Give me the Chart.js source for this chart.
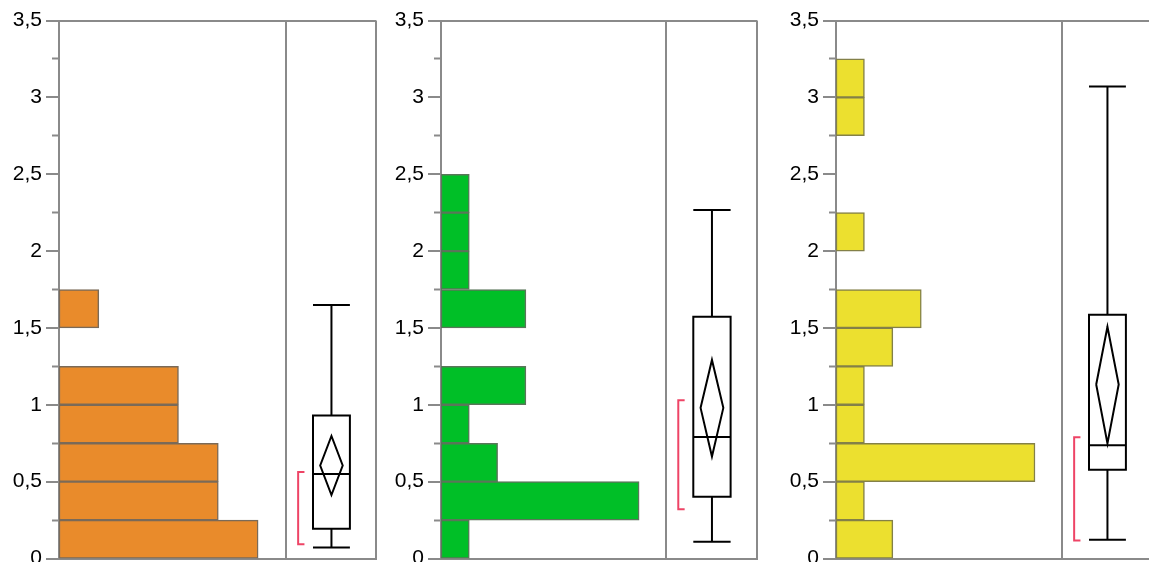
<!DOCTYPE html>
<html>
<head>
<meta charset="utf-8">
<title>Distributions</title>
<script src="https://cdn.jsdelivr.net/npm/chart.js@4.4.1/dist/chart.umd.min.js"></script>
<style>
  html, body { margin: 0; padding: 0; background: #ffffff; width: 1149px; height: 562px; overflow: hidden; position: relative; }
  canvas { position: absolute; top: 0; }
</style>
</head>
<body>
<canvas id="panelA" width="379" height="562" style="left:-1px"></canvas>
<canvas id="panelB" width="378" height="562" style="left:381px"></canvas>
<canvas id="panelC" width="378" height="562" style="left:776px"></canvas>
<script>
// Histogram bins: width 0.25, centres from 0.125 to 3.375
const binCenters = [0.125, 0.375, 0.625, 0.875, 1.125, 1.375, 1.625, 1.875, 2.125, 2.375, 2.625, 2.875, 3.125, 3.375];

// Counts per bin
const countsA = [5, 4, 4, 3, 3, 0, 1, 0, 0, 0, 0, 0, 0, 0];
const countsB = [1, 7, 2, 1, 3, 0, 3, 1, 1, 1, 0, 0, 0, 0];
const countsC = [2, 1, 7, 1, 1, 2, 3, 0, 1, 0, 0, 1, 1, 0];

// Box plot: lower whisker, Q1, median, Q3, upper whisker
const quantA = [0.072, 0.194, 0.549, 0.930, 1.649];
const quantB = [0.109, 0.402, 0.791, 1.573, 2.268];
const quantC = [0.122, 0.578, 0.736, 1.586, 3.070];

// Mean diamond: lower 95% limit, mean, upper 95% limit
const meanA = [0.413, 0.605, 0.797];
const meanB = [0.663, 0.980, 1.292];
const meanC = [0.748, 1.132, 1.508];

// Shortest half bracket: low, high
const shortA = [0.093, 0.562];
const shortB = [0.321, 1.030];
const shortC = [0.117, 0.789];

// Value axis ticks
const yMajorTicks = [0, 0.5, 1, 1.5, 2, 2.5, 3, 3.5];
const yMinorTicks = [0.25, 0.75, 1.25, 1.75, 2.25, 2.75, 3.25];

const FRAME = '#8a8a8a';
const FONT = "'Liberation Sans', Arial, Helvetica, sans-serif";

// horizontal placement of box plot parts inside the box-plot strip (0..1)
const BOX_L = 0.30, BOX_R = 0.71, BOX_C = 0.505, DIAMOND_HALF = 0.125;
const BRACKET_X = 0.135, BRACKET_TIP = 0.205;

function lineSet(points, color, width, cap) {
  return {
    type: 'line',
    indexAxis: 'x',
    xAxisID: 'xb',
    yAxisID: 'y',
    data: points,
    borderColor: color,
    borderWidth: width,
    borderCapStyle: cap || 'butt',
    borderJoinStyle: 'miter',
    pointRadius: 0,
    pointHoverRadius: 0,
    fill: false,
    tension: 0,
    spanGaps: false
  };
}

function makePanel(id, counts, quant, mean, shortest, look) {
  const [lo, q1, med, q3, hi] = quant;
  const [ciLo, mu, ciHi] = mean;
  const [shLo, shHi] = shortest;

  const datasets = [
    {
      type: 'bar',
      indexAxis: 'y',
      xAxisID: 'xh',
      yAxisID: 'y',
      data: binCenters.map((c, i) => ({ x: counts[i], y: c })),
      backgroundColor: look.fill,
      borderColor: look.edge,
      borderWidth: 1.5,
      borderSkipped: false,
      grouped: false,
      barPercentage: 1,
      categoryPercentage: 1
    },
    // quartile box (path repeats its first edge so every corner is joined)
    lineSet([{x: BOX_L, y: q1}, {x: BOX_R, y: q1}, {x: BOX_R, y: q3}, {x: BOX_L, y: q3}, {x: BOX_L, y: q1}, {x: BOX_R, y: q1}], '#000', 2),
    // median
    lineSet([{x: BOX_L, y: med}, {x: BOX_R, y: med}], '#000', 2),
    // whiskers and caps
    lineSet([{x: BOX_C, y: q3}, {x: BOX_C, y: hi}], '#000', 2),
    lineSet([{x: BOX_L, y: hi}, {x: BOX_R, y: hi}], '#000', 2),
    lineSet([{x: BOX_C, y: q1}, {x: BOX_C, y: lo}], '#000', 2),
    lineSet([{x: BOX_L, y: lo}, {x: BOX_R, y: lo}], '#000', 2),
    // mean diamond
    lineSet([{x: BOX_C - DIAMOND_HALF, y: mu}, {x: BOX_C, y: ciHi}, {x: BOX_C + DIAMOND_HALF, y: mu}, {x: BOX_C, y: ciLo}, {x: BOX_C - DIAMOND_HALF, y: mu}, {x: BOX_C, y: ciHi}], '#000', 2),
    // shortest half bracket
    lineSet([{x: BRACKET_TIP, y: shHi}, {x: BRACKET_X, y: shHi}, {x: BRACKET_X, y: shLo}, {x: BRACKET_TIP, y: shLo}], '#ee4466', 2)
  ];

  const noPad = s => { s.paddingTop = 0; s.paddingBottom = 0; s.paddingLeft = 0; s.paddingRight = 0; };

  new Chart(document.getElementById(id), {
    type: 'scatter',
    data: { datasets },
    options: {
      responsive: false,
      animation: false,
      events: [],
      devicePixelRatio: 1,
      layout: { padding: { left: 0, top: 20.5, right: 2, bottom: 3.5 } },
      plugins: { legend: { display: false }, tooltip: { enabled: false } },
      scales: {
        y: {
          type: 'linear', axis: 'y', position: 'left', min: 0, max: 3.5,
          offset: false,
          afterBuildTicks: s => { s.ticks = yMajorTicks.map(v => ({ value: v })); },
          afterFit: s => { s.width = 60; noPad(s); },
          ticks: {
            color: '#000',
            padding: 4,
            font: { family: FONT, size: 21 },
            callback: v => String(v).replace('.', ',')
          },
          grid: {
            offset: false,
            drawOnChartArea: true,
            color: c => (c.tick && c.tick.value === 3.5) ? FRAME : 'rgba(0,0,0,0)',
            lineWidth: 2,
            tickLength: 13,
            tickColor: FRAME,
            tickWidth: 2
          },
          border: { display: true, color: FRAME, width: 2 }
        },
        ym: {
          type: 'linear', axis: 'y', position: { xh: 0 }, min: 0, max: 3.5,
          offset: false,
          afterBuildTicks: s => { s.ticks = yMinorTicks.map(v => ({ value: v })); },
          afterFit: noPad,
          ticks: { display: false },
          grid: { drawOnChartArea: false, tickLength: 7, tickColor: FRAME, tickWidth: 2 },
          border: { display: false }
        },
        xh: {
          type: 'linear', axis: 'x', position: 'bottom', stack: 'frame', stackWeight: look.histWidth,
          min: 0, max: look.histMax, offset: false,
          afterBuildTicks: s => { s.ticks = [{ value: s.max }]; },
          afterFit: noPad,
          ticks: { display: false },
          grid: { offset: false, drawTicks: false, color: FRAME, lineWidth: 2 },
          border: { display: true, color: FRAME, width: 2 }
        },
        xb: {
          type: 'linear', axis: 'x', position: 'bottom', stack: 'frame', stackWeight: look.boxWidth,
          min: 0, max: 1, offset: false,
          afterBuildTicks: s => { s.ticks = [{ value: s.max }]; },
          afterFit: noPad,
          ticks: { display: false },
          grid: { offset: false, drawTicks: false, color: FRAME, lineWidth: 2 },
          border: { display: true, color: FRAME, width: 2 }
        }
      }
    }
  });
}

makePanel('panelA', countsA, quantA, meanA, shortA,
  { fill: '#e98b2b', edge: '#7a6a58', histMax: 5.7, histWidth: 227, boxWidth: 90 });
makePanel('panelB', countsB, quantB, meanB, shortB,
  { fill: '#00bf27', edge: '#5a765a', histMax: 7.95, histWidth: 225, boxWidth: 91 });
makePanel('panelC', countsC, quantC, meanC, shortC,
  { fill: '#ece02f', edge: '#838048', histMax: 7.95, histWidth: 226, boxWidth: 90 });
</script>
</body>
</html>
